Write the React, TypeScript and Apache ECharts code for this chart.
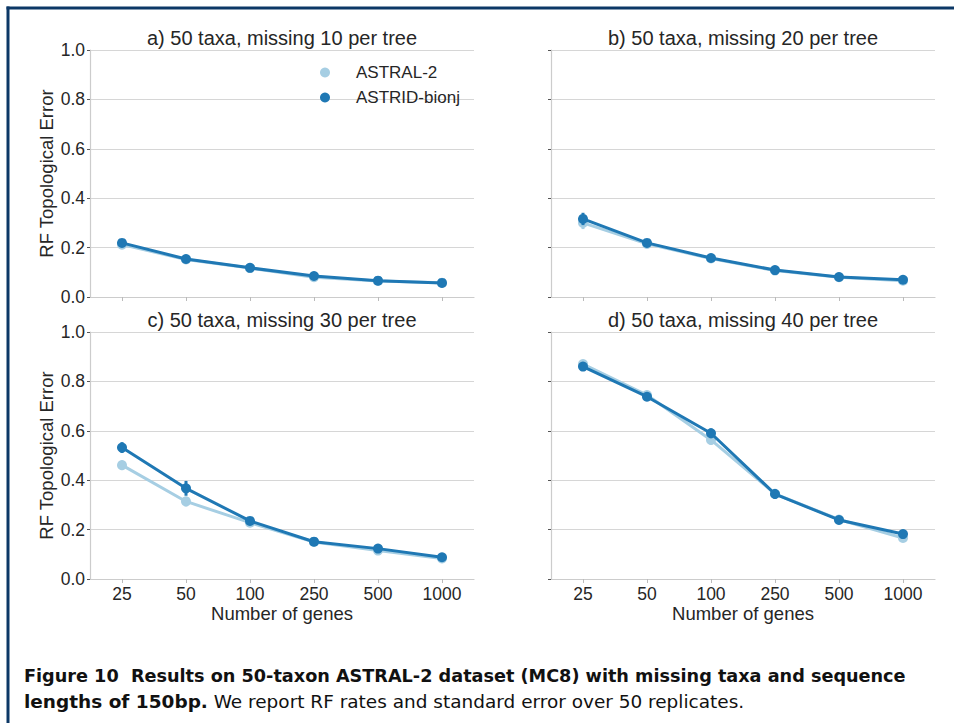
import React, { useEffect, useRef } from "react";
import * as echarts from "echarts";

const categories = ["25", "50", "100", "250", "500", "1000"];
const panelTitles = [
  "a) 50 taxa, missing 10 per tree",
  "b) 50 taxa, missing 20 per tree",
  "c) 50 taxa, missing 30 per tree",
  "d) 50 taxa, missing 40 per tree",
];
const seriesNames = ["ASTRAL-2", "ASTRID-bionj"];
const yTicks = [0, 0.2, 0.4, 0.6, 0.8, 1.0];

// Mean RF error per panel
const astralA = [0.212, 0.152, 0.117, 0.08, 0.065, 0.058];
const astridA = [0.219, 0.154, 0.118, 0.085, 0.066, 0.057];
const astralB = [0.3, 0.215, 0.156, 0.107, 0.08, 0.066];
const astridB = [0.316, 0.219, 0.158, 0.109, 0.081, 0.07];
const astralC = [0.461, 0.314, 0.228, 0.15, 0.115, 0.083];
const astridC = [0.532, 0.367, 0.235, 0.151, 0.123, 0.088];
const astralD = [0.87, 0.745, 0.563, 0.345, 0.241, 0.166];
const astridD = [0.86, 0.738, 0.59, 0.344, 0.239, 0.182];

// Standard errors
const astralErrA = [0.015, 0.008, 0.007, 0.007, 0.005, 0.005];
const astridErrA = [0.015, 0.008, 0.007, 0.006, 0.005, 0.005];
const astralErrB = [0.025, 0.012, 0.008, 0.007, 0.006, 0.005];
const astridErrB = [0.025, 0.012, 0.008, 0.007, 0.006, 0.005];
const astralErrC = [0.02, 0.02, 0.013, 0.008, 0.008, 0.006];
const astridErrC = [0.022, 0.03, 0.015, 0.008, 0.008, 0.006];
const astralErrD = [0.01, 0.015, 0.02, 0.02, 0.012, 0.01];
const astridErrD = [0.01, 0.015, 0.02, 0.02, 0.012, 0.008];

const captionBold1 =
  "Figure 10  Results on 50-taxon ASTRAL-2 dataset (MC8) with missing taxa and sequence";
const captionBold2 = "lengths of 150bp.";
const captionRegular2 = "We report RF rates and standard error over 50 replicates.";

const COLORS = ["#a6cee3", "#1f78b4"];
const FONT = "'Liberation Sans', Arial, sans-serif";
const CAPTION_FONT = "'DejaVu Sans Condensed', 'DejaVu Sans', sans-serif";

const means = [
  [astralA, astridA],
  [astralB, astridB],
  [astralC, astridC],
  [astralD, astridD],
];
const errs = [
  [astralErrA, astridErrA],
  [astralErrB, astridErrB],
  [astralErrC, astridErrC],
  [astralErrD, astridErrD],
];

const grids = [
  { left: 90, top: 50, width: 384, height: 247 },
  { left: 551, top: 50, width: 384, height: 247 },
  { left: 90, top: 332, width: 384, height: 247 },
  { left: 551, top: 332, width: 384, height: 247 },
];

export default function App() {
  const ref = useRef<HTMLDivElement>(null);
  useEffect(() => {
    if (!ref.current) return;
    const chart = echarts.init(ref.current, null, { renderer: "svg" });

    const xAxes = grids.map((_, i) => {
      const bottom = i >= 2;
      return {
        type: "category",
        gridIndex: i,
        data: categories,
        boundaryGap: true,
        name: bottom ? "Number of genes" : "",
        nameLocation: "middle",
        nameGap: 25,
        nameTextStyle: { fontSize: 18.5, color: "#262626", fontFamily: FONT },
        axisLine: { show: true, lineStyle: { color: "#cccccc", width: 1.2 } },
        axisTick: { show: true, alignWithLabel: true, length: 4, lineStyle: { color: "#bbbbbb" } },
        axisLabel: {
          show: bottom,
          margin: 6,
          fontSize: 17.5,
          color: "#262626",
          fontFamily: FONT,
        },
        splitLine: { show: false },
      };
    });

    const yAxes = grids.map((_, i) => {
      const left = i % 2 === 0;
      return {
        type: "value",
        gridIndex: i,
        min: yTicks[0],
        max: yTicks[yTicks.length - 1],
        interval: 0.2,
        name: left ? "RF Topological Error" : "",
        nameLocation: "middle",
        nameGap: 34,
        nameTextStyle: { fontSize: 18.5, color: "#262626", fontFamily: FONT },
        axisLine: { show: true, lineStyle: { color: "#cccccc", width: 1.2 } },
        axisTick: { show: true, length: 3, lineStyle: { color: "#555555" } },
        axisLabel: {
          show: left,
          margin: 5,
          fontSize: 17.5,
          color: "#262626",
          fontFamily: FONT,
          formatter: (v: number) => v.toFixed(1),
        },
        splitLine: { show: true, lineStyle: { color: "#d6d6d6", width: 1.2 } },
      };
    });

    const series: any[] = [];
    grids.forEach((_, p) => {
      [0, 1].forEach((s) => {
        const m = means[p][s];
        const e = errs[p][s];
        series.push({
          name: seriesNames[s] + " SE",
          type: "custom",
          xAxisIndex: p,
          yAxisIndex: p,
          z: 2 + s * 2,
          silent: true,
          encode: { x: 0, y: [1, 2] },
          data: m.map((v, k) => [k, v - e[k], v + e[k]]),
          renderItem: (params: any, api: any) => {
            const lo = api.coord([api.value(0), api.value(1)]);
            const hi = api.coord([api.value(0), api.value(2)]);
            return {
              type: "line",
              shape: { x1: lo[0], y1: lo[1], x2: hi[0], y2: hi[1] },
              style: { stroke: COLORS[s], lineWidth: 3 },
            };
          },
        });
        series.push({
          name: seriesNames[s],
          type: "line",
          xAxisIndex: p,
          yAxisIndex: p,
          z: 3 + s * 2,
          data: m,
          symbol: "circle",
          symbolSize: 10,
          showSymbol: true,
          itemStyle: { color: COLORS[s] },
          lineStyle: { color: COLORS[s], width: 3 },
        });
      });
    });

    const option: any = {
      animation: false,
      backgroundColor: "#ffffff",
      textStyle: { fontFamily: FONT },
      title: panelTitles.map((t, i) => ({
        text: t,
        left: grids[i].left + grids[i].width / 2,
        top: grids[i].top - 22,
        textAlign: "center",
        padding: 0,
        textStyle: { fontSize: 20, fontWeight: "normal", color: "#262626", fontFamily: FONT },
      })),
      legend: {
        data: seriesNames,
        orient: "vertical",
        left: 320,
        top: 64,
        icon: "circle",
        itemWidth: 52,
        itemHeight: 10,
        itemGap: 8,
        padding: 0,
        textStyle: { fontSize: 17, color: "#262626", fontFamily: FONT },
      },
      grid: grids.map((g) => ({ ...g, containLabel: false })),
      xAxis: xAxes,
      yAxis: yAxes,
      series,
      graphic: [
        {
          type: "line",
          shape: { x1: 6.5, y1: 8, x2: 954, y2: 8 },
          style: { stroke: "#0c3866", lineWidth: 3 },
        },
        {
          type: "line",
          shape: { x1: 8, y1: 6.5, x2: 8, y2: 723 },
          style: { stroke: "#0c3866", lineWidth: 3 },
        },
        {
          type: "text",
          x: 24,
          y: 667,
          scaleX: 1.122,
          style: {
            text: captionBold1,
            fontSize: 17.5,
            fontWeight: "bold",
            fontFamily: CAPTION_FONT,
            fill: "#111111",
          },
        },
        {
          type: "text",
          x: 24,
          y: 693,
          scaleX: 1.174,
          style: {
            text: "{b|" + captionBold2 + "} {r|" + captionRegular2 + "}",
            fontSize: 17.5,
            fontFamily: CAPTION_FONT,
            fill: "#111111",
            rich: {
              b: { fontSize: 17.5, fontWeight: "bold", fontFamily: CAPTION_FONT, fill: "#111111" },
              r: { fontSize: 17.5, fontWeight: "normal", fontFamily: CAPTION_FONT, fill: "#111111" },
            },
          },
        },
      ],
    };

    chart.setOption(option);
    return () => chart.dispose();
  }, []);

  return (
    <div
      ref={ref}
      style={{ position: "fixed", left: 0, top: 0, width: 954, height: 723 }}
    />
  );
}
